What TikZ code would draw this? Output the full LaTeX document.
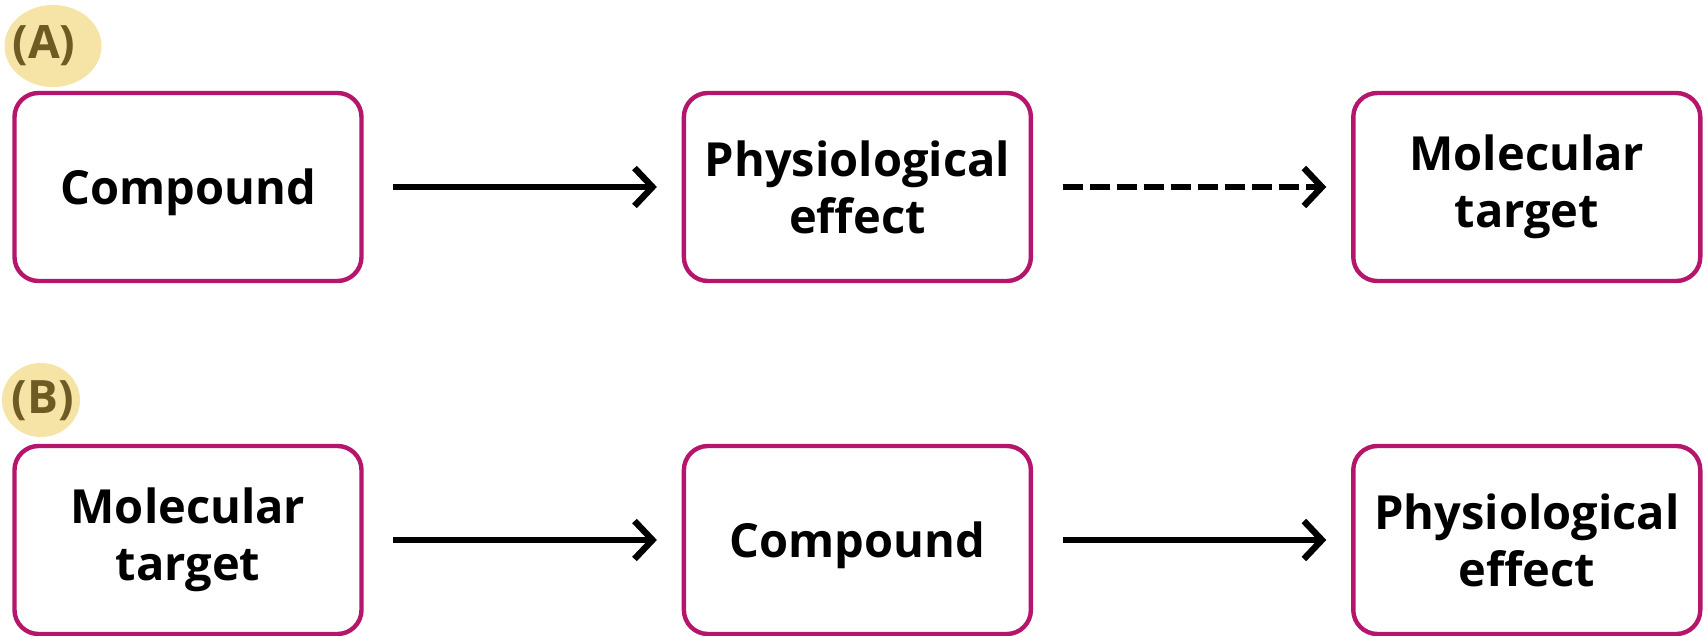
\documentclass[tikz,border=0pt]{standalone}
\usepackage{fontspec}
\setmainfont{Open Sans}
\usetikzlibrary{positioning,arrows.meta,shapes.geometric}
\definecolor{boxpink}{HTML}{B5166B}
\definecolor{tagfill}{HTML}{F6E3A6}
\definecolor{tagtext}{HTML}{6E5B23}
\tikzset{box/.style={draw=boxpink,line width=2.2pt,rounded corners=12pt,minimum width=173.5pt,minimum height=94pt,align=center,font=\bfseries\fontsize{23.5}{28.5}\selectfont},
	oneline/.style={text depth=0pt},
	arr/.style={-{Straight Barb[length=9pt,width=19pt]},line width=3.2pt,shorten <=14.7pt,shorten >=12.4pt},
	tag/.style={font=\bfseries\fontsize{23}{28}\selectfont,text=tagtext},
	blob/.style={ellipse,fill=tagfill,inner sep=0pt}}

\begin{document}
\begin{tikzpicture}[x=0.5pt,y=-0.5pt,node distance=159pt]
	\useasboundingbox (0,0) rectangle (1705,636);
	\def\ya{187}
	\def\yb{540}
	% labels
	\node[blob,minimum width=48.5pt,minimum height=41pt] (blobA) at (53,46) {};
	\node[tag] (labA) at (44,46) {(A)};
	\node[blob,minimum width=39pt,minimum height=37pt] (blobB) at (41,400) {};
	\node[tag] (labB) at (43,401) {(B)};
	% row A
	\node[box,oneline] (a1) at (188,\ya) {Compound};
	\node[box,right=of a1] (a2) {Physiological\\effect};
	\node[box,right=of a2] (a3) {Molecular\\target};
	\draw[arr] (a1) -- (a2);
	\draw[arr,dash pattern=on 10pt off 3.5pt] (a2) -- (a3);
	% row B
	\node[box] (b1) at (188,\yb) {Molecular\\target};
	\node[box,oneline,right=of b1] (b2) {Compound};
	\node[box,right=of b2] (b3) {Physiological\\effect};
	\draw[arr] (b1) -- (b2);
	\draw[arr] (b2) -- (b3);
\end{tikzpicture}
\end{document}
